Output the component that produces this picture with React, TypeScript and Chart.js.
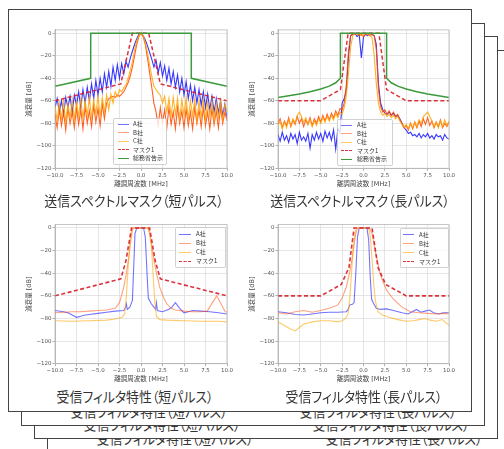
import React, { useEffect, useRef } from "react";
import { Chart, registerables } from "chart.js";

Chart.register(...registerables);

// ---------------- data ----------------
const FREQ = [
  -10, -9.75, -9.5, -9.25, -9, -8.75, -8.5, -8.25, -8, -7.75,
  -7.5, -7.25, -7, -6.75, -6.5, -6.25, -6, -5.75, -5.5, -5.25,
  -5, -4.75, -4.5, -4.25, -4, -3.75, -3.5, -3.25, -3, -2.75,
  -2.5, -2.25, -2, -1.75, -1.5, -1.25,
  -1, -0.75, -0.5, -0.25, 0, 0.25, 0.5, 0.75, 1,
  1.25, 1.5, 1.75, 2, 2.25, 2.5, 2.75, 3, 3.25, 3.5,
  3.75, 4, 4.25, 4.5, 4.75, 5, 5.25, 5.5, 5.75, 6,
  6.25, 6.5, 6.75, 7, 7.25, 7.5, 7.75, 8, 8.25, 8.5,
  8.75, 9, 9.25, 9.5, 9.75, 10,
];

const TX_SHORT_A = [
  -66, -58, -70, -60, -72, -57, -66, -56, -70, -55,
  -64, -52, -66, -50, -62, -48, -60, -45, -58, -42,
  -55, -40, -52, -36, -48, -34, -47, -30, -42, -28,
  -40, -27, -36, -25, -30, -22,
  -16, -10, -5, -1, 0, -2, -6, -11, -17,
  -23, -30, -24, -35, -26, -38, -29, -42, -31, -45,
  -34, -48, -37, -52, -40, -55, -43, -58, -46, -60,
  -48, -62, -50, -64, -52, -66, -54, -68, -56, -70,
  -58, -71, -60, -73, -63, -75,
];
const TX_SHORT_B = [
  -72, -84, -68, -82, -70, -86, -66, -80, -70, -84,
  -66, -81, -68, -85, -65, -80, -69, -83, -64, -79,
  -67, -82, -63, -76, -62, -58, -57, -56, -57, -55,
  -56, -54, -52, -48, -44, -38,
  -30, -20, -10, -3, 0, -3, -10, -22, -35,
  -48, -62, -70, -82, -66, -80, -68, -84, -66, -81,
  -70, -85, -66, -80, -69, -84, -67, -82, -70, -85,
  -66, -80, -68, -83, -66, -82, -70, -85, -67, -81,
  -69, -84, -66, -80, -70, -78,
];
const TX_SHORT_C = [
  -64, -78, -62, -76, -60, -79, -63, -75, -59, -77,
  -61, -74, -58, -76, -60, -73, -57, -75, -59, -72,
  -56, -74, -57, -70, -55, -68, -54, -62, -52, -56,
  -50, -52, -48, -46, -40, -33,
  -25, -15, -7, -2, 0, -2, -8, -17, -28,
  -38, -47, -50, -53, -55, -62, -56, -70, -58, -74,
  -57, -72, -58, -76, -59, -73, -57, -77, -60, -74,
  -58, -78, -60, -75, -59, -77, -61, -74, -60, -78,
  -62, -75, -60, -77, -63, -70,
];

const TX_LONG_A = [
  -90, -96, -88, -95, -91, -97, -89, -94, -90, -98,
  -88, -95, -92, -96, -89, -102, -90, -95, -88, -94,
  -89, -96, -87, -93, -88, -95, -86, -103, -85, -88,
  -62, -58, -50, -20, -2, -1,
  0, -3, -1, -22, -3, -1, -2, 0, -1,
  -2, -10, -45, -62, -68, -71, -72, -70, -73, -71,
  -74, -73, -76, -80, -84, -86, -89, -88, -91, -90,
  -92, -89, -93, -90, -92, -89, -93, -91, -94, -90,
  -92, -91, -95, -90, -93, -94,
];
const TX_LONG_B = [
  -80, -76, -84, -78, -82, -75, -83, -77, -81, -74,
  -80, -76, -83, -77, -81, -75, -82, -76, -80, -74,
  -79, -73, -78, -72, -77, -71, -75, -69, -73, -67,
  -68, -62, -45, -15, -2, 0,
  -1, 0, -2, -1, -3, -1, 0, -2, -1,
  -2, -15, -50, -65, -70, -68, -72, -69, -73, -70,
  -74, -72, -77, -80, -84, -82, -86, -80, -85, -79,
  -84, -78, -83, -76, -81, -75, -82, -78, -84, -79,
  -83, -77, -84, -80, -83, -79,
];
const TX_LONG_C = [
  -82, -78, -85, -79, -84, -77, -82, -76, -80, -73,
  -70, -74, -79, -75, -81, -77, -83, -78, -82, -76,
  -80, -75, -79, -74, -78, -73, -77, -71, -75, -70,
  -72, -66, -55, -35, -12, -2,
  0, -1, 0, -2, -1, 0, -1, -2, -4,
  -20, -45, -62, -70, -73, -71, -74, -72, -75, -73,
  -76, -74, -78, -81, -84, -81, -85, -80, -84, -79,
  -83, -77, -80, -74, -72, -70, -74, -78, -83, -79,
  -84, -78, -83, -77, -82, -78,
];

const MASK_TX_SHORT_X = [-10, -2.35, -1.0, 0.9, 2.25, 10];
const MASK_TX_SHORT_Y = [-60, -45, 0, 0, -45, -60];
const MIC_TX_SHORT_X = [-10, -5.85, -5.85, 5.85, 5.85, 10];
const MIC_TX_SHORT_Y = [-47, -40, 0, 0, -40, -47];

const MASK_TX_LONG_X = [-10, -5, -2.7, -1.8, 1.8, 2.7, 5, 10];
const MASK_TX_LONG_Y = [-60, -60, -50, 0, 0, -50, -60, -60];
const MIC_TX_LONG_X = [-10, -8.75, -7.5, -6.25, -5, -4, -3.25, -2.7, -2.7, 2.7, 2.7, 3.25, 4, 5, 6.25, 7.5, 8.75, 10];
const MIC_TX_LONG_Y = [-57, -55.5, -54, -52, -49.5, -47, -44, -40, 0, 0, -40, -44, -47, -49.5, -52, -54, -55.5, -57];

const RX_SHORT_A_X = [-10, -9, -8.5, -8, -7.5, -7, -6.5, -6, -5, -4, -3, -2, -1.8, -1.7, -1.6, -1.3, -1.0, -0.85, -0.7, -0.5, 0, 0.3, 0.5, 0.7, 0.85, 1.2, 1.5, 1.7, 1.8, 1.9, 2.5, 3.2, 3.6, 4.0, 4.5, 5.0, 5.5, 6, 7, 8, 9, 10];
const RX_SHORT_A_Y = [-73, -74, -75, -77, -79, -78, -77, -76.5, -75.5, -74.5, -73.5, -73, -70, -67, -72, -70, -64, -35, -5, 0, 0, 0, -8, -40, -62, -67, -70, -72, -66, -73, -74, -72, -70, -66, -71, -75, -74, -73, -73.5, -74, -75, -76];
const RX_SHORT_B_X = [-10, -9, -8, -7, -6, -5, -4, -3, -2.5, -2.2, -2, -1.7, -1.4, -1.2, -1.0, -0.9, 0.8, 1.0, 1.2, 1.5, 1.8, 2.2, 2.6, 3.0, 3.5, 4, 5, 6, 7, 7.7, 8.8, 9.8, 10];
const RX_SHORT_B_Y = [-75, -74.5, -74, -74, -73.5, -73, -72.5, -71, -66, -58, -52, -40, -25, -12, -2, 0, 0, -5, -15, -28, -40, -53, -61, -67, -71, -72.5, -73.5, -74, -74, -73.5, -60, -74, -74.5];
const RX_SHORT_C_X = [-10, -8, -6, -4, -3, -2.2, -1.9, -1.7, -1.5, -1.3, -1.1, -0.9, 0.8, 1.0, 1.2, 1.4, 1.6, 1.8, 2.2, 3, 5, 7, 9, 10];
const RX_SHORT_C_Y = [-82, -82.5, -82, -81.5, -80.5, -79, -76, -60, -35, -12, -2, 0, 0, -3, -15, -40, -65, -78, -81, -81.5, -82, -82.5, -82.5, -83];
const MASK_RX_SHORT_X = [-10, -2.35, -1.75, -1.1, 1.0, 1.65, 2.25, 10];
const MASK_RX_SHORT_Y = [-60, -45, -29, 0, 0, -29, -45, -60];

const RX_LONG_A_X = [-10, -9, -8, -7, -6, -5, -4, -3, -2, -1.8, -1.6, -1.3, -1.1, -0.9, -0.7, -0.5, 0.4, 0.6, 0.8, 0.95, 1.2, 1.5, 2, 2.7, 3.5, 4.5, 5.2, 5.7, 6.2, 6.7, 7.2, 7.7, 8.2, 8.8, 9.3, 10];
const RX_LONG_A_Y = [-74, -75, -76.5, -77, -76, -75, -74.5, -74.5, -74, -72, -68, -67.5, -66, -40, -8, 0, 0, -10, -45, -63, -67, -71, -72, -71.5, -73, -75, -76, -74, -72, -74.5, -73.5, -72.5, -75, -76, -75, -75];
const RX_LONG_B_X = [-10, -9, -8, -7, -6, -5, -4, -3, -2.5, -2, -1.5, -1.2, -0.9, -0.7, 0.7, 1.0, 1.5, 2, 2.7, 3.5, 4.5, 5.5, 6.5, 7.5, 8.5, 9.5, 10];
const RX_LONG_B_Y = [-75, -76, -74, -73, -74.5, -73, -71, -68, -62, -52, -35, -20, -5, 0, 0, -5, -25, -42, -55, -63, -70, -74, -75, -75.5, -76, -75.5, -76];
const RX_LONG_C_X = [-10, -9.3, -8.6, -8.0, -7.5, -7, -6.5, -6, -5, -4, -3, -2.5, -2.1, -1.8, -1.6, -1.4, -1.2, -1.0, -0.8, 0.6, 0.8, 1.0, 1.2, 1.4, 1.7, 2.2, 3, 4, 5, 5.8, 6.5, 7.2, 7.8, 8.5, 9.2, 10];
const RX_LONG_C_Y = [-83, -86, -89, -91, -88, -85, -84, -83, -82, -82, -83, -82, -80, -76, -62, -40, -18, -4, 0, 0, -8, -28, -50, -65, -74, -77, -79, -81, -82.5, -82, -81, -80, -81.5, -82.5, -81, -86];
const MASK_RX_LONG_X = [-10, -5, -2.6, -1.7, -1.1, 1.0, 1.7, 2.6, 5, 10];
const MASK_RX_LONG_Y = [-60, -60, -50, -35, 0, 0, -35, -50, -60, -60];

const X_TICKS = [-10, -7.5, -5, -2.5, 0, 2.5, 5, 7.5, 10];
const Y_TICKS = [-120, -100, -80, -60, -40, -20, 0];

const LABEL_A = "A社";
const LABEL_B = "B社";
const LABEL_C = "C社";
const LABEL_MASK = "マスク1";
const LABEL_MIC = "総務省告示";
const X_TITLE = "離調周波数 [MHz]";
const Y_TITLE = "減衰量 [dB]";
const TITLE_TX_SHORT = "送信スペクトルマスク（短パルス）";
const TITLE_TX_LONG = "送信スペクトルマスク（長パルス）";
const TITLE_RX_SHORT = "受信フィルタ特性（短パルス）";
const TITLE_RX_LONG = "受信フィルタ特性（長パルス）";

// ---------------- styles ----------------
const FONT_UI = "'DejaVu Sans', 'Noto Sans CJK JP', sans-serif";
const FONT_JP = "'Noto Sans CJK JP', 'Noto Sans', sans-serif";
const COL_A_TX = "rgba(20,20,255,0.85)";
const COL_B_TX = "rgba(255,69,0,0.85)";
const COL_C_TX = "rgba(255,165,0,0.85)";
const COL_A = "rgba(0,0,255,0.55)";
const COL_B = "rgba(255,69,0,0.5)";
const COL_C = "rgba(255,165,0,0.6)";
const COL_MASK = "rgba(215,30,40,0.9)";
const COL_MIC = "#3c9a3c";

type Series = { label: string; x: number[]; y: number[]; color: string; width: number; dash?: number[] };
type Box = { left: number; top: number; width: number; height: number };
type Plot = { l: number; r: number; t: number; b: number };

const fmtMinus = (s: string) => s.replace("-", "\u2212");

const framePlugin = {
  id: "frame",
  afterDraw(chart: any) {
    const { ctx, chartArea: a } = chart;
    ctx.save();
    ctx.strokeStyle = "#b8b8b8";
    ctx.lineWidth = 0.8;
    ctx.strokeRect(a.left, a.top, a.right - a.left, a.bottom - a.top);
    ctx.restore();
  },
};

function SpectrumChart({ box, plot, series }: { box: Box; plot: Plot; series: Series[] }) {
  const ref = useRef<HTMLCanvasElement>(null);
  useEffect(() => {
    const padTop = plot.t - box.top;
    const padRight = box.left + box.width - plot.r;
    const yW = plot.l - box.left;
    const xH = box.top + box.height - plot.b;
    const tickFont = { family: FONT_UI, size: 5.5 };
    const titleFont = { family: FONT_UI, size: 6.5 };
    const chart = new Chart(ref.current as HTMLCanvasElement, {
      type: "line",
      data: {
        datasets: series.map((s, i) => ({
          label: s.label,
          data: s.x.map((x, j) => ({ x, y: s.y[j] })),
          borderColor: s.color,
          backgroundColor: s.color,
          borderWidth: s.width,
          borderDash: s.dash ?? [],
          pointRadius: 0,
          fill: false,
          tension: 0,
          order: series.length - i,
        })),
      },
      options: {
        animation: false,
        responsive: false,
        devicePixelRatio: 1,
        events: [],
        layout: { padding: { left: 0, top: padTop, right: padRight, bottom: 0 } },
        plugins: { legend: { display: false }, tooltip: { enabled: false } },
        scales: {
          x: {
            type: "linear",
            min: -10,
            max: 10,
            afterBuildTicks: (s: any) => {
              s.ticks = X_TICKS.map((v) => ({ value: v }));
            },
            afterFit: (s: any) => {
              s.height = xH;
            },
            ticks: {
              callback: (v: any) => fmtMinus(Number(v).toFixed(1)),
              font: tickFont,
              color: "#555",
              padding: 1,
              maxRotation: 0,
              autoSkip: false,
            },
            grid: { color: "#dedede", lineWidth: 0.8, tickLength: 2.5, tickColor: "#999" },
            border: { color: "#b8b8b8" },
            title: { display: true, text: X_TITLE, font: titleFont, color: "#444", padding: 0 },
          },
          y: {
            type: "linear",
            min: -120,
            max: 3,
            afterBuildTicks: (s: any) => {
              s.ticks = Y_TICKS.map((v) => ({ value: v }));
            },
            afterFit: (s: any) => {
              s.width = yW;
            },
            ticks: {
              callback: (v: any) => fmtMinus(String(v)),
              font: tickFont,
              color: "#555",
              padding: 1,
            },
            grid: { color: "#dedede", lineWidth: 0.8, tickLength: 2.5, tickColor: "#999" },
            border: { color: "#b8b8b8" },
            title: {
              display: true,
              text: Y_TITLE,
              font: titleFont,
              color: "#444",
              padding: { top: yW - 26 - 3.9, bottom: 0 },
            },
          },
        },
      } as any,
      plugins: [framePlugin],
    });
    return () => chart.destroy();
  }, []);
  return (
    <canvas
      ref={ref}
      width={box.width}
      height={box.height}
      style={{ position: "absolute", left: box.left, top: box.top, width: box.width, height: box.height }}
    />
  );
}

type LegendItem = { label: string; color: string; width: number; dashed?: boolean };

function Legend({ left, top, width, rowH, padTop, padLeft, sampleW, gap, items }: {
  left: number; top: number; width: number; rowH: number; padTop: number; padLeft: number; sampleW: number; gap: number; items: LegendItem[];
}) {
  return (
    <div
      style={{
        position: "absolute",
        left,
        top,
        width,
        boxSizing: "border-box",
        paddingTop: padTop,
        paddingBottom: 1,
        paddingLeft: padLeft,
        background: "rgba(255,255,255,0.8)",
        border: "0.8px solid rgba(0,0,0,0.18)",
        borderRadius: 2,
      }}
    >
      {items.map((it) => (
        <div key={it.label} style={{ display: "flex", alignItems: "center", height: rowH }}>
          <div
            style={{
              width: sampleW,
              height: 0,
              borderTop: `${it.width}px ${it.dashed ? "dashed" : "solid"} ${it.color}`,
              marginRight: gap,
            }}
          />
          <span style={{ fontFamily: FONT_JP, fontSize: 6, lineHeight: "6px", color: "#333", whiteSpace: "nowrap" }}>
            {it.label}
          </span>
        </div>
      ))}
    </div>
  );
}

function Title({ cx, cy, text }: { cx: number; cy: number; text: string }) {
  return (
    <div
      style={{
        position: "absolute",
        left: cx - 150,
        top: cy - 8,
        width: 300,
        height: 16,
        lineHeight: "16px",
        textAlign: "center",
        fontFamily: FONT_JP,
        fontSize: 14,
        fontFeatureSettings: '"palt"',
        color: "#333",
        whiteSpace: "nowrap",
        transform: "scaleX(0.92)",
        transformOrigin: "50% 50%",
      }}
    >
      {text}
    </div>
  );
}

const PAGE_W = 464;
const PAGE_H = 403;

function BackPage({ left, top }: { left: number; top: number }) {
  return (
    <div
      style={{
        position: "absolute",
        left,
        top,
        width: PAGE_W,
        height: PAGE_H,
        boxSizing: "border-box",
        border: "1.5px solid #444",
        background: "#fff",
        overflow: "hidden",
      }}
    >
      <Title cx={127} cy={387} text={TITLE_RX_SHORT} />
      <Title cx={356} cy={387} text={TITLE_RX_LONG} />
    </div>
  );
}

export default function App() {
  const legendTx: LegendItem[] = [
    { label: LABEL_A, color: COL_A, width: 1 },
    { label: LABEL_B, color: COL_B, width: 1 },
    { label: LABEL_C, color: COL_C, width: 1 },
    { label: LABEL_MASK, color: COL_MASK, width: 1.5, dashed: true },
    { label: LABEL_MIC, color: COL_MIC, width: 1.5 },
  ];
  const legendRx = legendTx.slice(0, 4);

  const txShort: Series[] = [
    { label: LABEL_A, x: FREQ, y: TX_SHORT_A, color: COL_A_TX, width: 1.1 },
    { label: LABEL_B, x: FREQ, y: TX_SHORT_B, color: COL_B_TX, width: 1.1 },
    { label: LABEL_C, x: FREQ, y: TX_SHORT_C, color: COL_C_TX, width: 1.1 },
    { label: LABEL_MASK, x: MASK_TX_SHORT_X, y: MASK_TX_SHORT_Y, color: COL_MASK, width: 1.5, dash: [4, 2.5] },
    { label: LABEL_MIC, x: MIC_TX_SHORT_X, y: MIC_TX_SHORT_Y, color: COL_MIC, width: 1.5 },
  ];
  const txLong: Series[] = [
    { label: LABEL_A, x: FREQ, y: TX_LONG_A, color: COL_A_TX, width: 1.1 },
    { label: LABEL_B, x: FREQ, y: TX_LONG_B, color: COL_B_TX, width: 1.1 },
    { label: LABEL_C, x: FREQ, y: TX_LONG_C, color: COL_C_TX, width: 1.1 },
    { label: LABEL_MASK, x: MASK_TX_LONG_X, y: MASK_TX_LONG_Y, color: COL_MASK, width: 1.5, dash: [4, 2.5] },
    { label: LABEL_MIC, x: MIC_TX_LONG_X, y: MIC_TX_LONG_Y, color: COL_MIC, width: 1.5 },
  ];
  const rxShort: Series[] = [
    { label: LABEL_A, x: RX_SHORT_A_X, y: RX_SHORT_A_Y, color: COL_A, width: 1.1 },
    { label: LABEL_B, x: RX_SHORT_B_X, y: RX_SHORT_B_Y, color: COL_B, width: 1.1 },
    { label: LABEL_C, x: RX_SHORT_C_X, y: RX_SHORT_C_Y, color: COL_C, width: 1.1 },
    { label: LABEL_MASK, x: MASK_RX_SHORT_X, y: MASK_RX_SHORT_Y, color: COL_MASK, width: 1.6, dash: [4, 2.5] },
  ];
  const rxLong: Series[] = [
    { label: LABEL_A, x: RX_LONG_A_X, y: RX_LONG_A_Y, color: COL_A, width: 1.1 },
    { label: LABEL_B, x: RX_LONG_B_X, y: RX_LONG_B_Y, color: COL_B, width: 1.1 },
    { label: LABEL_C, x: RX_LONG_C_X, y: RX_LONG_C_Y, color: COL_C, width: 1.1 },
    { label: LABEL_MASK, x: MASK_RX_LONG_X, y: MASK_RX_LONG_Y, color: COL_MASK, width: 1.6, dash: [4, 2.5] },
  ];

  return (
    <div style={{ position: "absolute", left: 0, top: 0, width: 504, height: 449, overflow: "hidden", background: "#fff" }}>
      <BackPage left={47} top={49.5} />
      <BackPage left={34} top={36} />
      <BackPage left={21} top={22.5} />
      <div
        style={{
          position: "absolute",
          left: 8,
          top: 9,
          width: PAGE_W,
          height: PAGE_H,
          boxSizing: "border-box",
          border: "1.5px solid #444",
          background: "#fff",
        }}
      />
      <SpectrumChart box={{ left: 10, top: 12, width: 232, height: 176 }} plot={{ l: 55, r: 227, t: 29.9, b: 168.3 }} series={txShort} />
      <SpectrumChart box={{ left: 233, top: 12, width: 232, height: 176 }} plot={{ l: 278, r: 449, t: 29.9, b: 168.3 }} series={txLong} />
      <SpectrumChart box={{ left: 10, top: 207, width: 232, height: 176 }} plot={{ l: 55, r: 227, t: 224.6, b: 363.7 }} series={rxShort} />
      <SpectrumChart box={{ left: 233, top: 207, width: 232, height: 176 }} plot={{ l: 278, r: 449, t: 224.6, b: 363.7 }} series={rxLong} />
      <Legend left={113} top={118} width={54} rowH={8.5} padTop={1} padLeft={4} sampleW={11} gap={4} items={legendTx} />
      <Legend left={337} top={119} width={56} rowH={8.5} padTop={1} padLeft={3} sampleW={11} gap={5} items={legendTx} />
      <Legend left={175} top={227} width={51} rowH={9} padTop={1.5} padLeft={3} sampleW={12} gap={5} items={legendRx} />
      <Legend left={400} top={228} width={49} rowH={9} padTop={1} padLeft={2} sampleW={11} gap={5} items={legendRx} />
      <Title cx={134} cy={199.5} text={TITLE_TX_SHORT} />
      <Title cx={360} cy={199.5} text={TITLE_TX_LONG} />
      <Title cx={135} cy={396} text={TITLE_RX_SHORT} />
      <Title cx={364} cy={396} text={TITLE_RX_LONG} />
    </div>
  );
}
